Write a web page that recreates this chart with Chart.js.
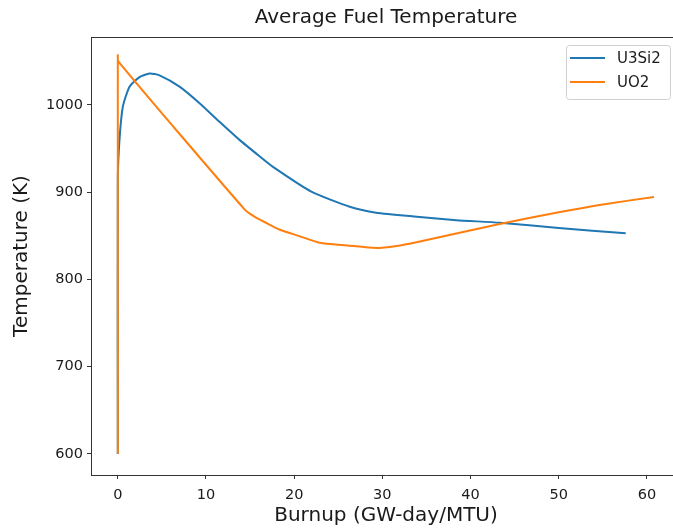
<!DOCTYPE html>
<html>
<head>
<meta charset="utf-8">
<script src="https://cdn.jsdelivr.net/npm/chart.js@4.4.0/dist/chart.umd.min.js"></script>
<style>
  html, body { margin: 0; padding: 0; background: #fff; overflow: hidden; }
  #outer { width: 673px; height: 529px; overflow: hidden; position: relative; }
  #wrap { width: 772px; height: 529px; position: relative; }
</style>
</head>
<body>
<div id="outer"><div id="wrap"><canvas id="fuelChart"></canvas></div></div>
<script>
// data
const u3si2Burnup = [0, 0, 0.19, 0.57, 1.33, 2.46, 3.6, 4.73, 7.0, 9.27, 11.5, 13.8, 16.1, 17.6, 21.95, 26.3, 29.3, 33.9, 38.4, 43.3, 50, 57.6];
const u3si2Temp   = [600, 914, 960, 998, 1021, 1032, 1036, 1034, 1021, 1002, 981, 960, 941, 929, 900.6, 883.4, 876.6, 872, 868, 865, 859, 853];

const uo2Burnup = [0, 0, 0.05, 14.4, 15.5, 16.8, 18.4, 20.5, 22.9, 26, 29.3, 31.6, 34, 37.6, 43.3, 50, 55, 60.8];
const uo2Temp   = [600, 1057, 1050, 880, 872, 865, 857, 850, 842, 839, 836, 838.4, 843, 851, 863.6, 877, 886, 894.6];

const xTicks = [0, 10, 20, 30, 40, 50, 60];
const yTicks = [600, 700, 800, 900, 1000];

const FONT = "'DejaVu Sans', sans-serif";
const INK = "#1a1a1a";

function pts(xs, ys) {
  return xs.map((x, i) => ({ x: x, y: ys[i] }));
}

// top frame line + matplotlib-like legend box
const framePlugin = {
  id: "frame",
  afterDraw(chart) {
    const { ctx, chartArea } = chart;
    ctx.save();
    ctx.strokeStyle = "#333";
    ctx.lineWidth = 1;
    ctx.beginPath();
    ctx.moveTo(chartArea.left, chartArea.top + 0.5);
    ctx.lineTo(chartArea.right, chartArea.top + 0.5);
    ctx.stroke();

    // legend
    const bx = 566.5, by = 45.5, bw = 104, bh = 54, r = 3;
    ctx.fillStyle = "rgba(255,255,255,0.8)";
    ctx.strokeStyle = "#d0d0d0";
    ctx.beginPath();
    ctx.moveTo(bx + r, by);
    ctx.lineTo(bx + bw - r, by);
    ctx.arcTo(bx + bw, by, bx + bw, by + r, r);
    ctx.lineTo(bx + bw, by + bh - r);
    ctx.arcTo(bx + bw, by + bh, bx + bw - r, by + bh, r);
    ctx.lineTo(bx + r, by + bh);
    ctx.arcTo(bx, by + bh, bx, by + bh - r, r);
    ctx.lineTo(bx, by + r);
    ctx.arcTo(bx, by, bx + r, by, r);
    ctx.closePath();
    ctx.fill();
    ctx.stroke();

    ctx.font = "15px " + FONT;
    ctx.textBaseline = "middle";
    ctx.textAlign = "left";
    chart.data.datasets.forEach((ds, i) => {
      const yy = 58 + i * 24;
      ctx.strokeStyle = ds.borderColor;
      ctx.lineWidth = 2;
      ctx.beginPath();
      ctx.moveTo(570, yy);
      ctx.lineTo(605, yy);
      ctx.stroke();
      ctx.fillStyle = INK;
      ctx.fillText(ds.label, 617, yy + 1);
    });
    ctx.restore();
  }
};

new Chart(document.getElementById("fuelChart"), {
  type: "line",
  data: {
    datasets: [
      {
        label: "U3Si2",
        data: pts(u3si2Burnup, u3si2Temp),
        borderColor: "#1f77b4",
        borderWidth: 2,
        pointRadius: 0,
        tension: 0.2,
        order: 1
      },
      {
        label: "UO2",
        data: pts(uo2Burnup, uo2Temp),
        borderColor: "#ff7f0e",
        borderWidth: 2,
        pointRadius: 0,
        tension: 0.2,
        order: 0
      }
    ]
  },
  options: {
    responsive: true,
    maintainAspectRatio: false,
    animation: false,
    layout: { padding: { left: 0, right: 91, top: 0, bottom: 0 } },
    plugins: {
      legend: { display: false },
      tooltip: { enabled: false },
      title: {
        display: true,
        fullSize: false,
        text: "Average Fuel Temperature",
        color: INK,
        font: { family: FONT, size: 20, weight: "normal" },
        padding: { top: 6, bottom: 7 }
      }
    },
    scales: {
      x: {
        type: "linear",
        min: -3.04,
        max: 63.87,
        afterBuildTicks: axis => { axis.ticks = xTicks.map(v => ({ value: v })); },
        afterFit: scale => { scale.height = 54; },
        grid: { display: true, drawOnChartArea: false, drawTicks: true, tickLength: 4, color: "#333" },
        border: { display: true, color: "#333", width: 1 },
        ticks: { color: INK, font: { family: FONT, size: 14.5 }, padding: 8, maxRotation: 0, callback: v => String(v) },
        title: {
          display: true,
          text: "Burnup (GW-day/MTU)",
          color: INK,
          font: { family: FONT, size: 20 },
          padding: { top: 0, bottom: 1 }
        }
      },
      y: {
        min: 575.9,
        max: 1077.9,
        afterBuildTicks: axis => { axis.ticks = yTicks.map(v => ({ value: v })); },
        afterFit: scale => { scale.width = 91; },
        grid: { display: true, drawOnChartArea: false, drawTicks: true, tickLength: 4, color: "#333" },
        border: { display: true, color: "#333", width: 1 },
        ticks: { color: INK, font: { family: FONT, size: 14.5 }, padding: 4, callback: v => String(v) },
        title: {
          display: true,
          text: "Temperature (K)",
          color: INK,
          font: { family: FONT, size: 20 },
          padding: { top: 10, bottom: 0 }
        }
      }
    }
  },
  plugins: [framePlugin]
});
</script>
</body>
</html>
